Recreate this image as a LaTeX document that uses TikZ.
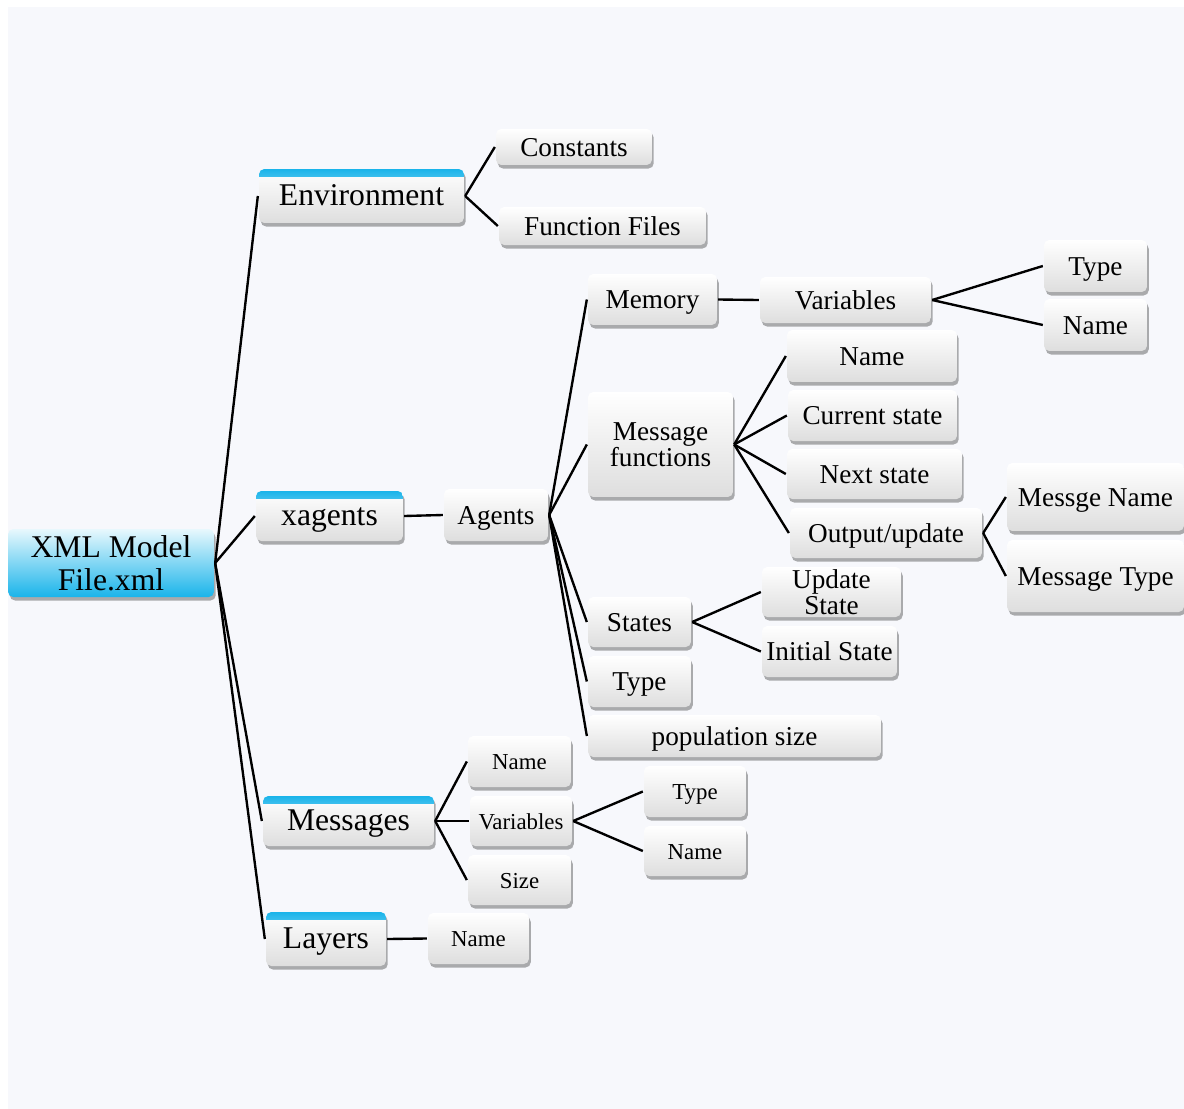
\documentclass[tikz,border=0pt]{standalone}
\usepackage{fontspec}
\setmainfont{Liberation Serif}
\usetikzlibrary{shadows}

\definecolor{bgpage}{HTML}{F7F8FC}
\definecolor{topblue}{HTML}{1AB4EA}

\begin{document}
\begin{tikzpicture}[x=0.02cm, y=-0.02cm, line width=1.35pt,
    box/.style={draw=none, rounded corners=3pt, inner sep=1pt, align=center,
      top color=white, bottom color=black!13, text height=10.5pt, text depth=0pt,
      drop shadow={shadow xshift=1pt, shadow yshift=-2pt, opacity=0.45, fill=black!70},
      font=\fontsize{15.5}{15}\selectfont},
    twoline/.style={text height=, text depth=},
    small/.style={box, text height=9.6pt, font=\fontsize{13}{14}\selectfont},
    lvl/.style={box, font=\fontsize{18}{20}\selectfont, text height=11.2pt,
      path picture={\shade[top color=topblue, bottom color=white, sharp corners]
        (path picture bounding box.north west) rectangle ([yshift=-4pt]path picture bounding box.north east);}},
    top/.style={box, twoline, top color=topblue!10, bottom color=topblue, font=\fontsize{18}{19}\selectfont}]
    \useasboundingbox (0,0) rectangle (1184,1109);
    \fill[bgpage] (8,7) rectangle (1184,1109);

    \node[top, minimum width=4.12cm, minimum height=1.36cm] (root) at (111,563) {XML Model\\File.xml};

    \node[lvl, minimum width=4.10cm, minimum height=1.08cm] (env) at (361.5,196) {Environment};
    \node[box, minimum width=3.12cm, minimum height=0.72cm] (const) at (574,147) {Constants};
    \node[box, minimum width=4.14cm, minimum height=0.76cm] (ffiles) at (602.5,226) {Function Files};

    \node[lvl, minimum width=2.94cm, minimum height=1.00cm] (xag) at (329.5,516) {xagents};
    \node[box, minimum width=2.08cm, minimum height=1.04cm] (ag) at (496,515) {Agents};
    \node[box, minimum width=2.58cm, minimum height=1.02cm] (mem) at (652.5,299.5) {Memory};
    \node[box, minimum width=3.42cm, minimum height=0.92cm] (var) at (845.5,300) {Variables};
    \node[box, minimum width=2.06cm, minimum height=1.04cm] (vtype) at (1095.5,266) {Type};
    \node[box, minimum width=2.06cm, minimum height=1.04cm] (vname) at (1095.5,325) {Name};
    \node[box, twoline, minimum width=2.90cm, minimum height=2.10cm] (mf) at (660.5,444.5) {Message\\functions};
    \node[box, minimum width=3.40cm, minimum height=1.04cm] (mf1) at (872,356) {Name};
    \node[box, minimum width=3.38cm, minimum height=1.02cm] (mf2) at (872.5,415.5) {Current state};
    \node[box, minimum width=3.50cm, minimum height=1.00cm] (mf3) at (874.5,474) {Next state};
    \node[box, minimum width=3.84cm, minimum height=1.00cm] (mf4) at (886,533) {Output/update};
    \node[box, minimum width=3.54cm, minimum height=1.36cm] (out1) at (1095.5,497) {Messge Name};
    \node[box, minimum width=3.54cm, minimum height=1.44cm] (out2) at (1095.5,576) {Message Type};
    \node[box, minimum width=2.06cm, minimum height=1.00cm] (st) at (639.5,622) {States};
    \node[box, twoline, minimum width=2.78cm, minimum height=1.00cm, font=\fontsize{15.5}{13}\selectfont] (st1) at (831.5,592) {Update\\State};
    \node[box, minimum width=2.70cm, minimum height=1.02cm] (st2) at (829.5,651.5) {Initial State};
    \node[box, minimum width=2.06cm, minimum height=1.02cm] (atype) at (639.5,681.5) {Type};
    \node[box, minimum width=5.86cm, minimum height=0.84cm] (pop) at (734.5,736) {population size};

    \node[lvl, minimum width=3.42cm, minimum height=1.00cm] (msg) at (348.5,821) {Messages};
    \node[small, minimum width=2.06cm, minimum height=1.02cm] (m1) at (519.5,761.5) {Name};
    \node[small, minimum width=2.04cm, minimum height=1.00cm] (m2) at (521,821) {Variables};
    \node[small, minimum width=2.06cm, minimum height=1.00cm] (m3) at (519.5,880) {Size};
    \node[small, minimum width=2.04cm, minimum height=1.02cm] (m21) at (695,791.5) {Type};
    \node[small, minimum width=2.04cm, minimum height=1.00cm] (m22) at (695,851) {Name};

    \node[lvl, minimum width=2.40cm, minimum height=1.08cm] (lay) at (326,939) {Layers};
    \node[small, minimum width=2.02cm, minimum height=1.02cm] (l1) at (478.5,938.5) {Name};

    \draw (root.east) -- (env.west);
    \draw (root.east) -- (xag.west);
    \draw (root.east) -- (msg.west);
    \draw (root.east) -- (lay.west);
    \draw (env.east) -- (const.west);
    \draw (env.east) -- (ffiles.west);
    \draw (xag.east) -- (ag.west);
    \draw (ag.east) -- (mem.west);
    \draw (ag.east) -- (mf.west);
    \draw (ag.east) -- (st.west);
    \draw (ag.east) -- (atype.west);
    \draw (ag.east) -- (pop.west);
    \draw (mem.east) -- (var.west);
    \draw (var.east) -- (vtype.west);
    \draw (var.east) -- (vname.west);
    \draw (mf.east) -- (mf1.west);
    \draw (mf.east) -- (mf2.west);
    \draw (mf.east) -- (mf3.west);
    \draw (mf.east) -- (mf4.west);
    \draw (mf4.east) -- (out1.west);
    \draw (mf4.east) -- (out2.west);
    \draw (st.east) -- (st1.west);
    \draw (st.east) -- (st2.west);
    \draw (msg.east) -- (m1.west);
    \draw (msg.east) -- (m2.west);
    \draw (msg.east) -- (m3.west);
    \draw (m2.east) -- (m21.west);
    \draw (m2.east) -- (m22.west);
    \draw (lay.east) -- (l1.west);
\end{tikzpicture}
\end{document}
